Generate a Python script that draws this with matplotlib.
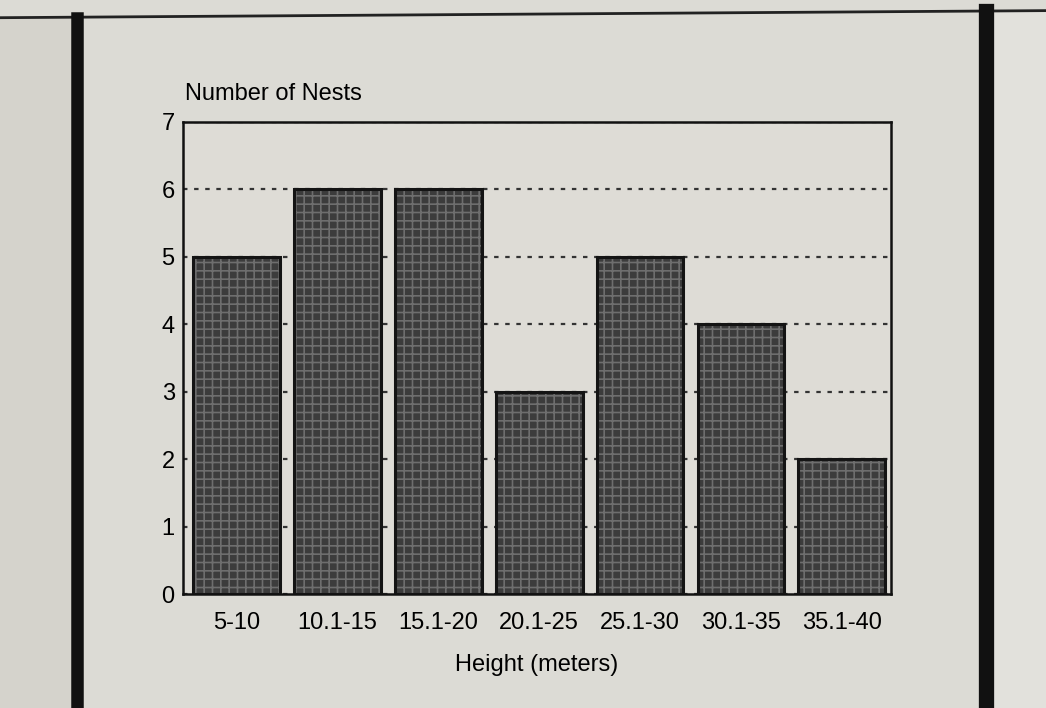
import matplotlib
matplotlib.use("Agg")
import matplotlib.pyplot as plt
from matplotlib.lines import Line2D
from matplotlib.patches import Rectangle

categories = ["5-10", "10.1-15", "15.1-20", "20.1-25", "25.1-30", "30.1-35", "35.1-40"]
nests = [5, 6, 6, 3, 5, 4, 2]
yticks = [0, 1, 2, 3, 4, 5, 6, 7]

plt.rcParams['font.family'] = ['Liberation Sans', 'DejaVu Sans']
plt.rcParams['hatch.linewidth'] = 1.2

fig = plt.figure(figsize=(10.46, 7.08), dpi=100)
fig.patch.set_facecolor('#dcdbd5')

# page decorations (frame of the printed page)
fig.add_artist(Rectangle((0, 0), 0.072, 0.975, transform=fig.transFigure,
                         facecolor='#d5d3cc', edgecolor='none', zorder=0))
fig.add_artist(Rectangle((0.948, 0), 0.052, 0.985, transform=fig.transFigure,
                         facecolor='#e2e1dc', edgecolor='none', zorder=0))
fig.add_artist(Line2D([0.0, 1.0], [0.975, 0.985], transform=fig.transFigure,
                      color='#222222', lw=2.0))
fig.add_artist(Line2D([0.074, 0.074], [0.0, 0.974], transform=fig.transFigure,
                      color='#111111', lw=9))
fig.add_artist(Line2D([0.943, 0.943], [0.0, 0.985], transform=fig.transFigure,
                      color='#111111', lw=11))

ax = fig.add_axes([0.175, 0.161, 0.677, 0.667])
ax.set_facecolor('#dedcd6')

x = list(range(len(categories)))
ax.bar(x, nests, width=0.86, color='#3c3c3c', edgecolor='#6e6e6e',
       hatch='++', linewidth=0, zorder=2)
ax.bar(x, nests, width=0.86, fill=False, edgecolor='#141414',
       linewidth=2.2, zorder=3)

ax.set_xlim(-0.53, 6.49)
ax.set_ylim(0, 7)
ax.set_yticks(yticks)
ax.set_xticks(x)
ax.set_xticklabels(categories, fontsize=17)
ax.tick_params(axis='y', labelsize=17, length=0, pad=6)
ax.tick_params(axis='x', length=0, pad=13)

ax.yaxis.grid(True, linestyle=(0, (2, 3)), color='#333333', lw=1.6, zorder=1)
ax.set_axisbelow(True)
for s in ax.spines.values():
    s.set_linewidth(1.8)
    s.set_color('#111111')

ax.set_xlabel("Height (meters)", fontsize=17, labelpad=14)
fig.text(0.177, 0.852, "Number of Nests", fontsize=17, ha='left', va='bottom')

fig.savefig("out.png", dpi=100, facecolor=fig.get_facecolor())
